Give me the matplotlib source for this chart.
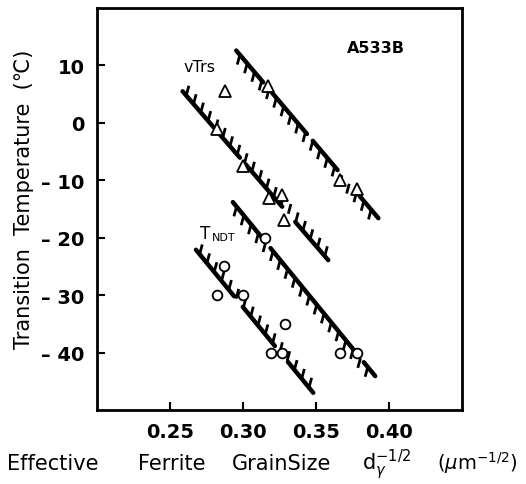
import numpy as np
import matplotlib
matplotlib.use("Agg")
import matplotlib.pyplot as plt

# vTrs (triangles) and T_NDT (circles) against d^-1/2
vtrs_x = [0.288, 0.282, 0.300, 0.318, 0.327, 0.328, 0.317, 0.367, 0.378]
vtrs_y = [5.5, -1.0, -7.5, -13.0, -12.5, -17.0, 6.5, -10.0, -11.5]
tndt_x = [0.315, 0.287, 0.282, 0.300, 0.329, 0.319, 0.327, 0.367, 0.378]
tndt_y = [-20.0, -25.0, -30.0, -30.0, -35.0, -40.0, -40.0, -40.0, -40.0]

# scatter-band boundaries: (x0, y0, x1, y1), hatch side (-1 below, +1 above), gaps in x
vtrs_upper = (0.2955, 12.6, 0.393, -16.6)
vtrs_lower = (0.2587, 5.5, 0.3586, -23.9)
tndt_upper = (0.2932, -13.8, 0.3908, -44.1)
tndt_lower = (0.2679, -22.1, 0.3483, -47.0)
band_sides = [-1, 1, -1, 1]
band_gaps = [
    [(0.314, 0.320), (0.344, 0.348), (0.365, 0.380)],
    [(0.280, 0.284), (0.298, 0.302), (0.327, 0.336)],
    [(0.313, 0.319), (0.376, 0.383)],
    [(0.294, 0.300), (0.322, 0.331)],
]

x_ticks = [0.25, 0.30, 0.35, 0.40]
x_ticklabels = ["0.25", "0.30", "0.35", "0.40"]
y_ticks = [10, 0, -10, -20, -30, -40]
y_ticklabels = ["10", "0", "\u2013 10", "\u2013 20", "\u2013 30", "\u2013 40"]

fig = plt.figure(figsize=(5.26, 4.85), dpi=100)
ax = fig.add_axes([0.1844, 0.1526, 0.6930, 0.8288])
ax.set_xlim(0.20, 0.45)
ax.set_ylim(-50, 20)


def draw_band(ax, line, side, gaps):
    x0, y0, x1, y1 = line
    slope = (y1 - y0) / (x1 - x0)
    # main line with gaps
    edges = [x0]
    for g0, g1 in gaps:
        edges += [g0, g1]
    edges.append(x1)
    for a, b in zip(edges[::2], edges[1::2]):
        ax.plot([a, b], [y0 + slope * (a - x0), y0 + slope * (b - x0)],
                color="black", lw=3.2, solid_capstyle="round", zorder=2)
    # short hatch strokes on one side of the line
    hx = np.arange(x0 + 0.0025, x1 - 0.001, 0.0050)
    hy = y0 + slope * (hx - x0)
    dy = 1.7 * side
    dx = 0.0018 * side
    for xa, ya in zip(hx, hy):
        ax.plot([xa, xa + dx], [ya, ya + dy], color="black", lw=2.0,
                solid_capstyle="butt", zorder=2)


for line, side, gaps in zip([vtrs_upper, vtrs_lower, tndt_upper, tndt_lower],
                            band_sides, band_gaps):
    draw_band(ax, line, side, gaps)

ax.plot(vtrs_x, vtrs_y, ls="none", marker="^", ms=8, mfc="white",
        mec="black", mew=1.3, zorder=3)
ax.plot(tndt_x, tndt_y, ls="none", marker="o", ms=7, mfc="white",
        mec="black", mew=1.3, zorder=3)

ax.text(0.391, 13.1, "A533B", ha="center", va="center", fontsize=11.5,
        fontweight="bold")
ax.text(0.270, 9.9, "vTrs", ha="center", va="center", fontsize=11.5)
ax.text(0.2705, -19.2, "T", ha="left", va="center", fontsize=12)
ax.annotate("NDT", xy=(0.2705, -19.2), xytext=(8.5, -4.7), textcoords="offset points",
            ha="left", va="baseline", fontsize=8)

for s in ax.spines.values():
    s.set_linewidth(2.0)
ax.set_xticks(x_ticks)
ax.set_xticklabels(x_ticklabels)
ax.set_yticks(y_ticks)
ax.set_yticklabels(y_ticklabels)
ax.tick_params(direction="in", length=6, width=1.5, labelsize=14, pad=9)
for lab in ax.get_xticklabels() + ax.get_yticklabels():
    lab.set_fontweight("bold")

fig.text(0.045, 0.59, "Transition  Temperature  (\u2103)", rotation=90,
         ha="center", va="center", fontsize=15)

# x-axis title, word by word
fig.text(7 / 526, 0.031, "Effective", ha="left", va="baseline", fontsize=15)
fig.text(138 / 526, 0.031, "Ferrite", ha="left", va="baseline", fontsize=15)
fig.text(232 / 526, 0.031, "GrainSize", ha="left", va="baseline", fontsize=15)
fig.text(362 / 526, 0.031, r"d$_{\gamma}^{-1/2}$", ha="left", va="baseline",
         fontsize=15)
fig.text(518 / 526, 0.031, r"($\mu$m$^{-1/2}$)", ha="right", va="baseline",
         fontsize=14)

fig.savefig("out.png", dpi=100)
